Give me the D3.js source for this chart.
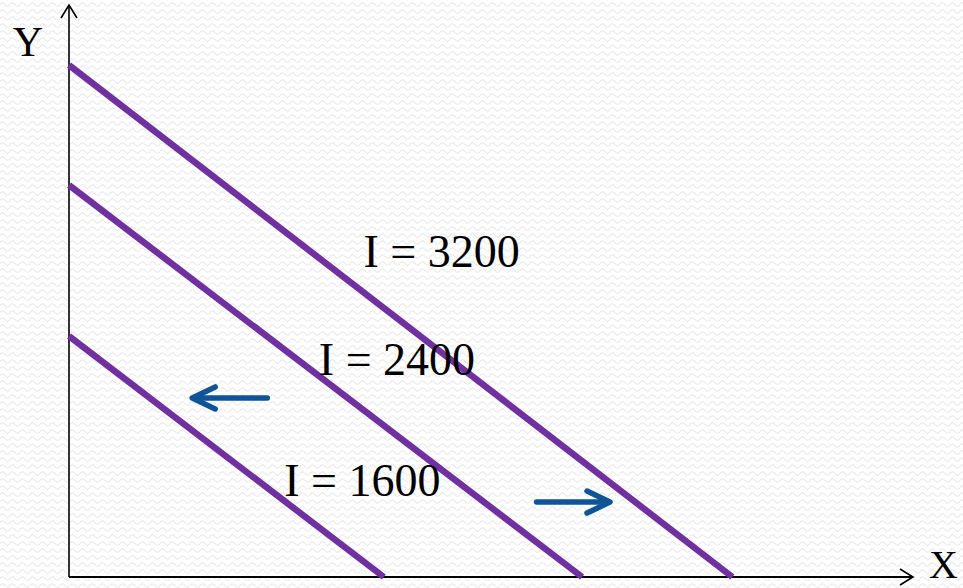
<!DOCTYPE html>
<html>
<head>
<meta charset="utf-8">
<script src="https://cdn.jsdelivr.net/npm/d3@7"></script>
<style>
  html, body { margin: 0; padding: 0; background: #fff; overflow: hidden; }
  text { font-family: "Liberation Serif", "DejaVu Serif", serif; fill: #000; }
</style>
</head>
<body>
<div id="chart"></div>
<script>
// budget lines: income, x intercept, y intercept (axis units 0..100)
var incomes = [1600, 2400, 3200];
var xIntercepts = [37.3, 60.8, 78.6];
var yIntercepts = [42.1, 68.5, 89.5];
// label anchor points (data units)
var labelX = [25.5, 29.6, 34.9];
var labelY = [14.2, 35.4, 54.2];
// shift arrows: [x1, y1, x2, y2]
var shiftArrows = [
    [23.5, 31.3, 14.6, 31.3],
    [55.4, 13.1, 64.1, 13.1]
];

var width = 963,
    height = 588;

var x = d3.scaleLinear().domain([0, 100]).range([69, 913]);
var y = d3.scaleLinear().domain([0, 100]).range([577, 5]);

var svg = d3.select('#chart').append('svg')
    .attr('width', width)
    .attr('height', height);

// faint wavy background texture
var defs = svg.append('defs');
var pat = defs.append('pattern')
    .attr('id', 'waves')
    .attr('patternUnits', 'userSpaceOnUse')
    .attr('width', 10)
    .attr('height', 7);
pat.append('path')
    .attr('d', 'M0,4.5 Q2.5,1 5,4.5 T10,4.5')
    .attr('fill', 'none')
    .attr('stroke', '#e8e8e8')
    .attr('stroke-width', 1.2);
svg.append('rect')
    .attr('width', width)
    .attr('height', height)
    .attr('fill', 'url(#waves)');

// axes
var axes = svg.append('g').attr('stroke', '#000').attr('fill', 'none');
axes.append('line')
    .attr('x1', x(0)).attr('y1', y(0))
    .attr('x2', x(0)).attr('y2', y(100))
    .attr('stroke-width', 1.6);
axes.append('path')
    .attr('d', 'M' + (x(0) - 8) + ',' + (y(100) + 13) + 'L' + x(0) + ',' + y(100) + 'L' + (x(0) + 8) + ',' + (y(100) + 13))
    .attr('stroke-width', 1.6);
axes.append('line')
    .attr('x1', x(0)).attr('y1', y(0))
    .attr('x2', x(100)).attr('y2', y(0))
    .attr('stroke-width', 2);
axes.append('path')
    .attr('d', 'M' + (x(100) - 13) + ',' + (y(0) - 8) + 'L' + x(100) + ',' + y(0) + 'L' + (x(100) - 13) + ',' + (y(0) + 8))
    .attr('stroke-width', 1.6);

svg.append('text')
    .attr('x', 28).attr('y', 56)
    .attr('text-anchor', 'middle')
    .style('font-size', '42px')
    .text('Y');
svg.append('text')
    .attr('x', 929).attr('y', 578)
    .style('font-size', '40px')
    .text('X');

// budget lines
svg.append('g')
    .selectAll('line')
    .data(incomes)
    .enter().append('line')
    .attr('x1', x(0))
    .attr('y1', function(d, i) { return y(yIntercepts[i]); })
    .attr('x2', function(d, i) { return x(xIntercepts[i]); })
    .attr('y2', y(0))
    .attr('stroke', '#7030A0')
    .attr('stroke-width', 6.5);

// arrows
var arrows = svg.append('g')
    .attr('stroke', '#0F5496')
    .attr('stroke-width', 5.5)
    .attr('stroke-linecap', 'round')
    .attr('stroke-linejoin', 'round')
    .attr('fill', 'none');
shiftArrows.forEach(function(a) {
    var x1 = x(a[0]), y1 = y(a[1]), x2 = x(a[2]), y2 = y(a[3]);
    var dir = x2 > x1 ? 1 : -1;
    arrows.append('line')
        .attr('x1', x1).attr('y1', y1)
        .attr('x2', x2 - dir * 3).attr('y2', y2);
    arrows.append('path')
        .attr('d', 'M' + (x2 - dir * 23) + ',' + (y2 - 11) + 'L' + x2 + ',' + y2 + 'L' + (x2 - dir * 23) + ',' + (y2 + 11));
});

// income labels
svg.append('g')
    .selectAll('text')
    .data(incomes)
    .enter().append('text')
    .attr('x', function(d, i) { return x(labelX[i]); })
    .attr('y', function(d, i) { return y(labelY[i]); })
    .style('font-size', '46px')
    .text(function(d) { return 'I = ' + d; });
</script>
</body>
</html>
